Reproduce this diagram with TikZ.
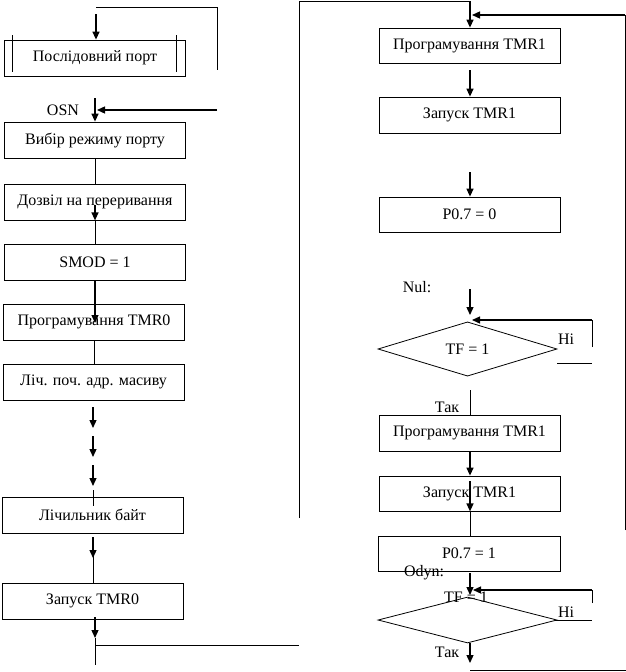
\documentclass[tikz,border=0pt]{standalone}
\usepackage{fontspec}
\setmainfont{Liberation Serif}
\usetikzlibrary{arrows.meta,shapes.geometric}
\begin{document}
\begin{tikzpicture}[x=1pt,y=-1pt,
  every node/.style={font=\fontsize{16}{19}\selectfont},
  box/.style={draw,line width=0.8pt,minimum width=181pt,minimum height=36pt,inner sep=0pt},
  dia/.style={draw,diamond,line width=0.8pt,minimum width=179pt,minimum height=48pt,inner sep=0pt},
  ln/.style={line width=0.8pt},
  arr/.style={line width=1.3pt,-{Triangle[width=7pt,length=8pt]}},
  lbl/.style={inner sep=0pt}]
\useasboundingbox (0,0) rectangle (626,672);

% ---------- left column boxes ----------
\node[box] (b1) at (95,58) {Послідовний порт};
\node[box] (b2) at (95,140) {Вибір режиму порту};
\node[box] (b3) at (95,202) {Дозвіл на переривання};
\node[box] (b4) at (95,262) {SMOD = 1};
\node[box] (b5) at (94,322) {Програмування TMR0};
\node[box] (b6) at (93.5,382) {Ліч. поч. адр. масиву};
\node[box] (b7) at (92.5,515) {Лічильник байт};
\node[box] (b8) at (92.5,601) {Запуск TMR0};

% inner bars of the first box
\draw[ln] (12,35) -- (12,72);
\draw[ln] (176,35) -- (176,72);

% ---------- right column ----------
\node[box,minimum height=35pt] (r1) at (469.5,45.5) {Програмування TMR1};
\node[box] (r2) at (469.5,115) {Запуск TMR1};
\node[box,minimum height=35pt] (r3) at (469.5,214.5) {P0.7 = 0};
\node[dia] (d1) at (467.5,349) {TF = 1};
\node[box] (r4) at (469.5,433) {Програмування TMR1};
\node[box,minimum height=35pt] (r5) at (469.5,493.5) {Запуск TMR1};
\node[box,minimum height=35pt,minimum width=182pt] (r6) at (469,553.5) {P0.7 = 1};
\node[dia,minimum height=46pt] (d2) at (467.5,620) {};

% ---------- labels ----------
\node[lbl] (osn) at (63,110) {OSN};
\node[lbl] (nul) at (417,287) {Nul:};
\node[lbl] (ni1) at (566,339) {Ні};
\node[lbl] (tak1) at (447,407) {Так};
\node[lbl] (odyn) at (424,573) {Odyn:};
\node[lbl] (tf2) at (466,597) {TF = 1};
\node[lbl] (ni2) at (566,612) {Ні};
\node[lbl] (tak2) at (447,652) {Так};

% ---------- left connectors ----------
\coordinate (tl) at (96,7);
\coordinate (tr) at (217,7);
\coordinate (tre) at (217,70);
\draw[ln] (tl) -- (tr) -- (tre);
\coordinate (a1) at (96,14);
\draw[arr] (a1) -- (a1 |- b1.north);

\coordinate (a2) at (95,98);
\draw[arr] (a2) -- (a2 |- b2.north);
\coordinate (h2) at (217,110);
\coordinate (h2e) at (97,110);
\draw[arr] (h2) -- (h2e);

\draw[ln] (b2.south) -- (b3.north);
\coordinate (a3) at (95,205);
\draw[arr] (a3) -- (a3 |- b3.south);
\draw[ln] (b3.south) -- (b4.north);
\coordinate (a4e) at (95,323);
\draw[arr] (b4.south) -- (a4e);
\draw[ln] (b5.south) -- (b5.south |- b6.north);

\coordinate (c1) at (93,407); \coordinate (c1e) at (93,428);
\coordinate (c2) at (93,436); \coordinate (c2e) at (93,457);
\coordinate (c3) at (93,465); \coordinate (c3e) at (93,486);
\coordinate (c4) at (93,490); \coordinate (c4e) at (93,506);
\draw[arr] (c1) -- (c1e);
\draw[arr] (c2) -- (c2e);
\draw[arr] (c3) -- (c3e);
\draw[ln] (c4) -- (c4e);

\coordinate (a8) at (93,537); \coordinate (a8e) at (93,558);
\draw[ln] (a8) -- (a8 |- b8.north);
\draw[arr] (a8) -- (a8e);

\coordinate (a9) at (95,617); \coordinate (a9e) at (95,638);
\coordinate (a9f) at (95,665);
\draw[ln] (a9e) -- (a9f);
\draw[arr] (a9) -- (a9e);
\coordinate (hb) at (96,645); \coordinate (hbe) at (299,645);
\draw[ln] (hb) -- (hbe);

% big loop to right column
\coordinate (vb) at (299,518);
\coordinate (vt) at (299,1);
\coordinate (rt) at (470,1);
\draw[ln] (vb) -- (vt) -- (rt);
\draw[arr] (rt) -- (rt |- r1.north);

% ---------- right connectors ----------
\coordinate (rr1) at (625,530);
\coordinate (rr2) at (625,15);
\coordinate (rr3) at (472,15);
\draw[ln] (rr1) -- (rr2);
\draw[arr] (rr2) -- (rr3);

\coordinate (e1) at (470,70);
\draw[arr] (e1) -- (e1 |- r2.north);
\coordinate (e2) at (470,172);
\draw[arr] (e2) -- (e2 |- r3.north);
\coordinate (e3) at (470,289); \coordinate (e3e) at (470,315);
\draw[arr] (e3) -- (e3e);

\coordinate (l1a) at (592,347); \coordinate (l1b) at (592,320); \coordinate (l1c) at (472,320);
\draw[ln] (l1a) -- (l1b);
\draw[arr] (l1b) -- (l1c);
\coordinate (l1d) at (557,363); \coordinate (l1e) at (592,363);
\draw[ln] (l1d) -- (l1e);

\coordinate (e4) at (470,390);
\draw[ln] (e4) -- (e4 |- r4.north);
\draw[arr] (r4.south -| e4) -- (e4 |- r5.north);
\coordinate (e5) at (470,481);
\draw[arr] (e5) -- (e5 |- r5.south);
\draw[ln] (r5.south -| e5) -- (e5 |- r6.north);
\coordinate (e6) at (470,573); \coordinate (e6e) at (470,595);
\draw[arr] (e6) -- (e6e);

\coordinate (l2a) at (592,603); \coordinate (l2b) at (592,590); \coordinate (l2c) at (473,590);
\draw[ln] (l2a) -- (l2b);
\draw[arr] (l2b) -- (l2c);
\coordinate (l2d) at (555,620); \coordinate (l2e) at (592,620);
\draw[ln] (l2d) -- (l2e);

\coordinate (e7e) at (470,663);
\draw[arr] (d2.south -| e7e) -- (e7e);
\coordinate (bh1) at (470,670); \coordinate (bh2) at (626,670);
\draw[ln] (bh1) -- (bh2);
\end{tikzpicture}
\end{document}
